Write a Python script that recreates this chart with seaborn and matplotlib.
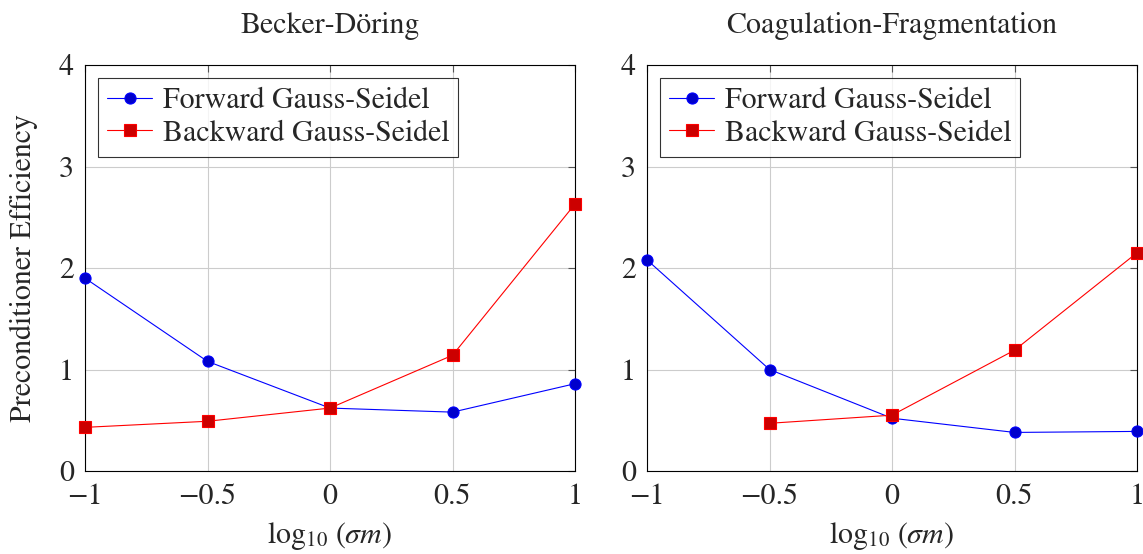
import numpy as np
import pandas as pd
import matplotlib
matplotlib.use("Agg")
import matplotlib.pyplot as plt
import seaborn as sns

# Preconditioner efficiency vs log10(sigma*m)
log_sigma_m = [-1.0, -0.5, 0.0, 0.5, 1.0]

bd_forward = [1.90, 1.08, 0.62, 0.58, 0.86]
bd_backward = [0.43, 0.49, 0.62, 1.14, 2.63]

cf_forward = [2.08, 1.00, 0.52, 0.38, 0.39]
cf_backward = [np.nan, 0.47, 0.55, 1.19, 2.15]

titles = ["Becker-Döring", "Coagulation-Fragmentation"]
series_names = ["Forward Gauss-Seidel", "Backward Gauss-Seidel"]
x_ticks = [-1, -0.5, 0, 0.5, 1]
x_tick_labels = ["\u22121", "\u22120.5", "0", "0.5", "1"]
y_ticks = [0, 1, 2, 3, 4]

sns.set_theme(style="white")
plt.rcParams["font.family"] = ["STIXGeneral", "Liberation Serif", "DejaVu Serif"]
plt.rcParams["mathtext.fontset"] = "stix"
plt.rcParams["axes.unicode_minus"] = True

FS = 21.5

fig = plt.figure(figsize=(11.43, 5.54), dpi=100)
ax_l = fig.add_axes([85 / 1143, 1 - 471 / 554, 490 / 1143, 406 / 554])
ax_r = fig.add_axes([647 / 1143, 1 - 471 / 554, 490 / 1143, 406 / 554])

styles = [
    dict(color=(0, 0, 1), marker="o", mfc=(0, 0, 0.8), mec=(0, 0, 1)),
    dict(color=(1, 0, 0), marker="s", mfc=(0.8, 0, 0), mec=(1, 0, 0)),
]

panels = [
    (ax_l, titles[0], [bd_forward, bd_backward]),
    (ax_r, titles[1], [cf_forward, cf_backward]),
]

for ax, title, data in panels:
    for name, values, st in zip(series_names, data, styles):
        df = pd.DataFrame({"x": log_sigma_m, "y": values}).dropna()
        sns.lineplot(
            data=df, x="x", y="y", ax=ax, label=name,
            color=st["color"], marker=st["marker"],
            markerfacecolor=st["mfc"], markeredgecolor=st["mec"],
            markersize=8, markeredgewidth=0.8, linewidth=0.8,
            estimator=None, sort=False, clip_on=False, zorder=3,
        )
    ax.set_xlim(-1, 1)
    ax.set_ylim(0, 4)
    ax.set_xticks(x_ticks)
    ax.set_xticklabels(x_tick_labels)
    ax.set_yticks(y_ticks)
    ax.grid(True, color="#cccccc", linewidth=0.8)
    ax.set_axisbelow(True)
    for sp in ax.spines.values():
        sp.set_visible(True)
        sp.set_color("black")
        sp.set_linewidth(0.8)
    ax.tick_params(axis="both", which="major", direction="in", length=5,
                   width=0.8, color="#555555", top=True, right=True,
                   labelsize=FS)
    ax.tick_params(axis="x", pad=9)
    ax.tick_params(axis="y", pad=8)
    ax.set_title(title, fontsize=FS, pad=23)
    ax.set_xlabel(r"$\log_{10}\,(\sigma m)$", fontsize=FS, labelpad=6)
    ax.set_ylabel("")
    leg = ax.legend(loc="upper left", bbox_to_anchor=(0.0, 1.0),
                    borderaxespad=0.45, fontsize=FS, frameon=True,
                    fancybox=False, handlelength=1.5, handletextpad=0.35,
                    borderpad=0.3, labelspacing=0.15)
    leg.get_frame().set_edgecolor("black")
    leg.get_frame().set_linewidth(0.8)

ax_l.set_ylabel("Preconditioner Efficiency", fontsize=FS)
ax_l.yaxis.set_label_coords(-0.096, 0.5)

fig.savefig("out.png", dpi=100)
